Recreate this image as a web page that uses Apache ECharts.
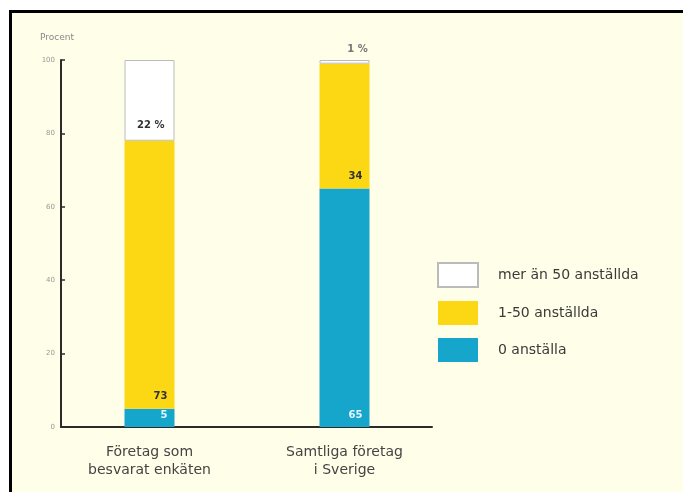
<!DOCTYPE html>
<html>
<head>
<meta charset="utf-8">
<script src="https://cdn.jsdelivr.net/npm/echarts@6/dist/echarts.min.js"></script>
<style>
  html, body { margin: 0; padding: 0; background: #ffffff; }
  #chart { width: 683px; height: 492px; }
</style>
</head>
<body>
<div id="chart"></div>
<script>
// Company size shares, percent of companies
const categories = ['Företag som\nbesvarat enkäten', 'Samtliga företag\ni Sverige'];
const zeroEmployees = [5, 65];
const smallCompanies = [73, 34];
const largeCompanies = [22, 1];
const seriesNames = ['mer än 50 anställda', '1-50 anställda', '0 anställa'];
const yTicks = [0, 20, 40, 60, 80, 100];

const cream = '#fffee8';
const yellow = '#fcd814';
const blue = '#16a6cc';
const ink = '#2b2b2b';
const font = 'DejaVu Sans';

const chart = echarts.init(document.getElementById('chart'), null, { renderer: 'canvas' });

const labelFont = { fontFamily: font, fontSize: 10, fontWeight: 'bold' };

chart.setOption({
  backgroundColor: '#ffffff',
  animation: false,
  graphic: [
    { type: 'rect', z: -10, shape: { x: 9, y: 10, width: 683, height: 492 }, style: { fill: cream } },
    { type: 'rect', z: -9, shape: { x: 9, y: 10, width: 683, height: 3 }, style: { fill: '#000' } },
    { type: 'rect', z: -9, shape: { x: 9, y: 10, width: 3, height: 492 }, style: { fill: '#000' } },
    { type: 'text', left: 40, top: 33, style: { text: 'Procent', fontFamily: font, fontSize: 9, fill: '#888' } }
  ],
  legend: {
    orient: 'vertical',
    left: 432,
    top: 257,
    padding: 5,
    itemWidth: 40,
    itemHeight: 24,
    itemGap: 13,
    data: seriesNames,
    icon: 'rect',
    textStyle: { fontFamily: font, fontSize: 14, color: '#3a3a3a', padding: [0, 0, 0, 15] },
    selectedMode: false
  },
  grid: [
    // bars
    { left: 52, top: 60, width: 390, height: 367, containLabel: false },
    // visible axes frame
    { left: 61, top: 60, width: 371, height: 367, containLabel: false }
  ],
  xAxis: [
    {
      type: 'category', gridIndex: 0, data: categories,
      axisLine: { show: false }, axisTick: { show: false },
      axisLabel: { color: '#444', fontFamily: font, fontSize: 14, lineHeight: 18, margin: 16 }
    },
    {
      type: 'value', gridIndex: 1, min: 0, max: 1,
      axisLine: { show: true, lineStyle: { color: ink, width: 2 } },
      axisTick: { show: false }, axisLabel: { show: false }, splitLine: { show: false }
    }
  ],
  yAxis: [
    {
      type: 'value', gridIndex: 0, min: 0, max: 100, interval: 20,
      axisLine: { show: false }, axisTick: { show: false }, axisLabel: { show: false }, splitLine: { show: false }
    },
    {
      type: 'value', gridIndex: 1, min: 0, max: 100, interval: 20,
      axisLine: { show: true, lineStyle: { color: ink, width: 2 } },
      axisTick: { show: true, inside: true, length: 4, lineStyle: { color: ink, width: 1.5 } },
      axisLabel: {
        color: '#999', fontFamily: font, fontSize: 7, margin: 6,
        formatter: v => (yTicks.includes(v) ? String(v) : '')
      },
      splitLine: { show: false }
    }
  ],
  series: [
    {
      name: seriesNames[2], type: 'bar', stack: 's', barWidth: 50,
      xAxisIndex: 0, yAxisIndex: 0,
      data: zeroEmployees,
      itemStyle: { color: blue },
      label: { show: true, position: 'insideBottomRight', distance: 7, color: '#e3f6ff', ...labelFont }
    },
    {
      name: seriesNames[1], type: 'bar', stack: 's', barWidth: 50,
      xAxisIndex: 0, yAxisIndex: 0,
      data: smallCompanies,
      itemStyle: { color: yellow },
      label: { show: true, position: 'insideBottomRight', distance: 7, color: '#333', ...labelFont }
    },
    {
      name: seriesNames[0], type: 'bar', stack: 's', barWidth: 50,
      xAxisIndex: 0, yAxisIndex: 0,
      data: largeCompanies.map((v, i) => ({
        value: v,
        label: i === 0
          ? { position: 'insideBottomRight', distance: 10 }
          : { position: 'top', offset: [13, -1], color: '#777' }
      })),
      itemStyle: { color: '#ffffff', borderColor: '#bbbbbb', borderWidth: 1 },
      label: { show: true, color: '#333', formatter: '{c} %', ...labelFont }
    }
  ]
});
</script>
</body>
</html>
